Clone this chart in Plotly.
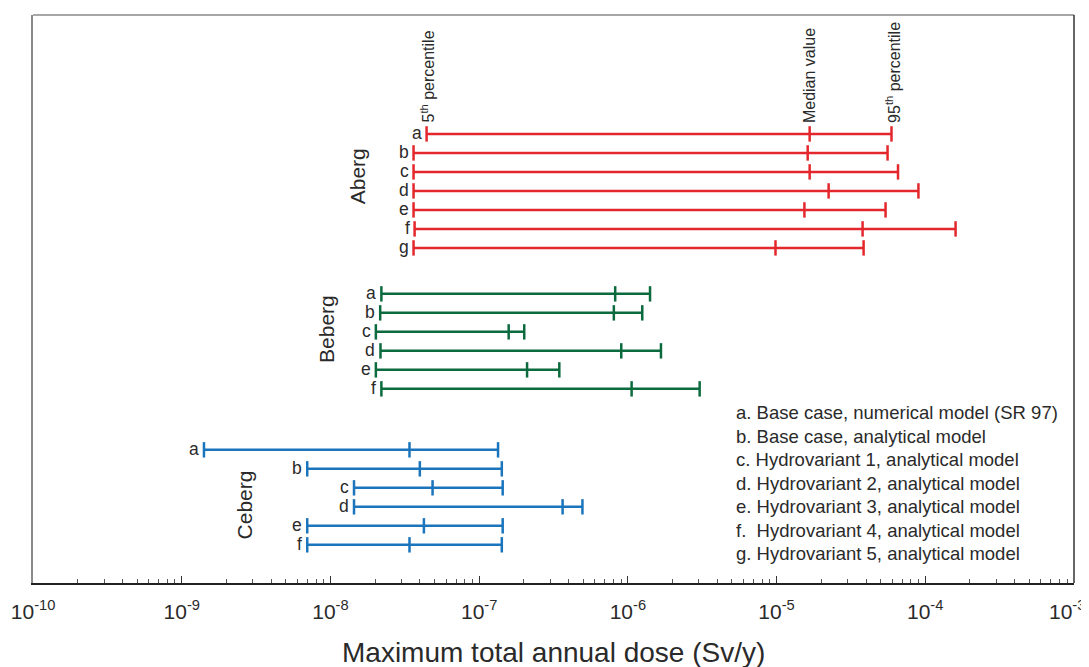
import plotly.graph_objects as go
import numpy as np

# ---------------- data ----------------
aberg_letters = ["a", "b", "c", "d", "e", "f", "g"]
aberg_p5 = [4.43e-8, 3.62e-8, 3.62e-8, 3.62e-8, 3.62e-8, 3.68e-8, 3.62e-8]
aberg_med = [1.67e-5, 1.62e-5, 1.67e-5, 2.24e-5, 1.54e-5, 3.79e-5, 9.84e-6]
aberg_p95 = [5.93e-5, 5.58e-5, 6.56e-5, 9.0e-5, 5.41e-5, 1.60e-4, 3.85e-5]

beberg_letters = ["a", "b", "c", "d", "e", "f"]
beberg_p5 = [2.20e-8, 2.16e-8, 2.02e-8, 2.17e-8, 2.02e-8, 2.20e-8]
beberg_med = [8.22e-7, 8.05e-7, 1.58e-7, 9.03e-7, 2.10e-7, 1.06e-6]
beberg_p95 = [1.41e-6, 1.25e-6, 2.01e-7, 1.67e-6, 3.46e-7, 3.04e-6]

ceberg_letters = ["a", "b", "c", "d", "e", "f"]
ceberg_p5 = [1.41e-9, 6.98e-9, 1.44e-8, 1.44e-8, 6.98e-9, 6.98e-9]
ceberg_med = [3.40e-8, 3.99e-8, 4.86e-8, 3.64e-7, 4.25e-8, 3.40e-8]
ceberg_p95 = [1.34e-7, 1.42e-7, 1.44e-7, 4.95e-7, 1.44e-7, 1.42e-7]

group_names = ["Aberg", "Beberg", "Ceberg"]

legend_lines = [
    "a. Base case, numerical model (SR 97)",
    "b. Base case, analytical model",
    "c. Hydrovariant 1, analytical model",
    "d. Hydrovariant 2, analytical model",
    "e. Hydrovariant 3, analytical model",
    "f.  Hydrovariant 4, analytical model",
    "g. Hydrovariant 5, analytical model",
]

tick_exponents = [-10, -9, -8, -7, -6, -5, -4, -3]
x_title = "Maximum total annual dose (Sv/y)"

# ---------------- layout constants ----------------
colors = ["#e3272c", "#0c6b3e", "#1b75bc"]
group_first_row = [6.26, 14.68, 22.89]
Y_MAX = 29.9
label_font = "Liberation Sans, Arial, sans-serif"
txt_color = "#2a2a2a"

groups = [
    (aberg_letters, aberg_p5, aberg_med, aberg_p95),
    (beberg_letters, beberg_p5, beberg_med, beberg_p95),
    (ceberg_letters, ceberg_p5, ceberg_med, ceberg_p95),
]

fig = go.Figure()
annotations = []

for gi, (letters, p5, med, p95) in enumerate(groups):
    ys = [group_first_row[gi] + i for i in range(len(letters))]
    lx, ly, mx, my = [], [], [], []
    for i in range(len(letters)):
        lx += [p5[i], p95[i], None]
        ly += [ys[i], ys[i], None]
        mx += [p5[i], med[i], p95[i]]
        my += [ys[i]] * 3
        annotations.append(dict(
            x=np.log10(p5[i]), y=ys[i], text=letters[i], showarrow=False,
            xanchor="right", yanchor="middle", xshift=-3, yshift=1,
            font=dict(family=label_font, size=17.5, color=txt_color)))
    fig.add_trace(go.Scatter(x=lx, y=ly, mode="lines",
                             line=dict(color=colors[gi], width=2.5),
                             hoverinfo="skip", showlegend=False))
    fig.add_trace(go.Scatter(x=mx, y=my, mode="markers",
                             marker=dict(symbol="line-ns", size=11,
                                         line=dict(color=colors[gi], width=2.5)),
                             showlegend=False))

# group labels (paper x, row y)
group_label_x = [0.312, 0.282, 0.203]
group_label_y = [8.5, 16.55, 25.8]
for gi, name in enumerate(group_names):
    annotations.append(dict(
        x=group_label_x[gi], xref="paper", y=group_label_y[gi], yref="y",
        text=name, textangle=-90, showarrow=False,
        xanchor="center", yanchor="middle",
        font=dict(family=label_font, size=21, color=txt_color)))

# percentile labels above Aberg row a
pct_text = ["5<sup>th</sup> percentile", "Median value", "95<sup>th</sup> percentile"]
pct_vals = [aberg_p5[0], aberg_med[0], aberg_p95[0]]
pct_shift = [1, 0, 2]
for t, v, s in zip(pct_text, pct_vals, pct_shift):
    annotations.append(dict(
        x=np.log10(v), y=group_first_row[0], text=t, textangle=-90,
        showarrow=False, xanchor="center", yanchor="bottom", yshift=9, xshift=s,
        font=dict(family=label_font, size=16, color=txt_color)))

# legend text block, one line per annotation
LEG_ROW0 = 20.95
LEG_STEP = 1.237
for i, line in enumerate(legend_lines):
    annotations.append(dict(
        x=0.673, xref="paper", y=LEG_ROW0 + LEG_STEP * i, yref="y",
        text=line, showarrow=False, align="left",
        xanchor="left", yanchor="middle",
        font=dict(family=label_font, size=18.5, color=txt_color)))

# last tick label drawn inside the page edge
annotations.append(dict(
    x=tick_exponents[-1], xref="x", y=0, yref="paper", yshift=-27,
    text=f"10<sup>{tick_exponents[-1]}</sup>", showarrow=False,
    xanchor="right", yanchor="middle", xshift=13,
    font=dict(family=label_font, size=21, color=txt_color)))

# axis title
annotations.append(dict(
    x=0.5, xref="paper", y=0, yref="paper", yshift=-69,
    text=x_title, showarrow=False, xanchor="center", yanchor="middle",
    font=dict(family=label_font, size=28, color=txt_color)))

minor_vals = [m * 10.0 ** e for e in tick_exponents[:-1] for m in range(2, 10)]

fig.update_layout(
    width=1089, height=667,
    margin=dict(l=25, r=23, t=7, b=92, autoexpand=False),
    plot_bgcolor="white", paper_bgcolor="white",
    annotations=annotations,
    xaxis=dict(
        type="log", range=[-10.0005, -2.9995],
        tickvals=[10.0 ** e for e in tick_exponents],
        ticktext=[f"10<sup>{e}</sup>" for e in tick_exponents[:-1]] + [""],
        ticks="inside", ticklen=7, tickwidth=1, tickcolor="#333",
        minor=dict(tickvals=minor_vals, ticks="inside", ticklen=4,
                   tickwidth=1, tickcolor="#555"),
        showgrid=False, zeroline=False, automargin=False,
        showline=True, linecolor="#222", linewidth=1.5, mirror=False,
        tickfont=dict(family=label_font, size=21, color=txt_color),
        ticklabelstandoff=9, ticklabeloverflow="allow",
    ),
    yaxis=dict(
        range=[Y_MAX, 0], showticklabels=False, ticks="",
        showgrid=False, zeroline=False, automargin=False,
        showline=True, linecolor="#8a8a8a", linewidth=1.5, mirror=False,
    ),
    shapes=[
        dict(type="line", xref="paper", yref="paper", x0=0, x1=1, y0=1, y1=1,
             line=dict(color="#8a8a8a", width=1.5)),
        dict(type="line", xref="paper", yref="paper", x0=1, x1=1, y0=0, y1=1,
             line=dict(color="#333", width=1.5)),
    ],
)

fig.write_html("out.html")
